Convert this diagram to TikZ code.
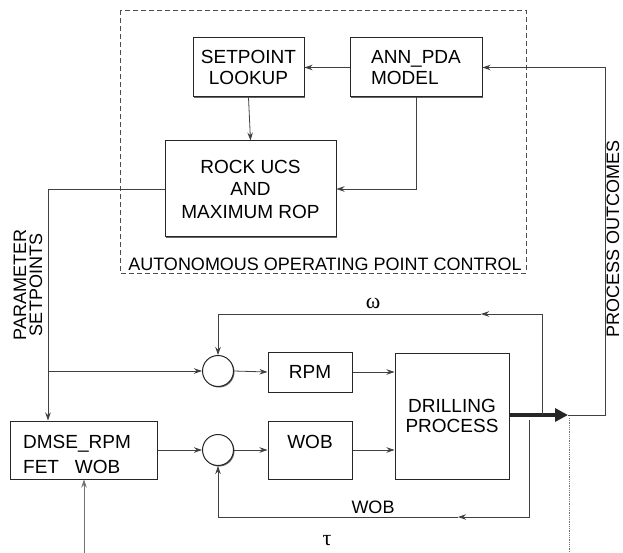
\documentclass[tikz,border=0pt]{standalone}
\usepackage{fontspec}
\setmainfont{Liberation Sans}
\newfontfamily\greekfont{Liberation Serif}
\usetikzlibrary{arrows.meta,shadows}
\begin{document}
\begin{tikzpicture}[x=1pt,y=-1pt,
  box/.style={draw=black!85, line width=1pt, fill=white, inner sep=0pt, align=center,
    font=\fontsize{19}{20.5}\selectfont,
    drop shadow={shadow xshift=1.2pt,shadow yshift=-1.2pt,opacity=0.6,fill=black}},
  sumc/.style={circle, draw=black!85, line width=1pt, fill=white, minimum size=31pt, inner sep=0pt,
    drop shadow={shadow xshift=1pt,shadow yshift=-1pt,opacity=0.6,fill=black}},
  conn/.style={draw=black!75, line width=0.8pt},
  arr/.style={conn, -{Stealth[length=8pt,width=5.5pt]}},
  lbl/.style={font=\fontsize{18}{19}\selectfont, inner sep=0pt},
  greek/.style={inner sep=0pt, font=\greekfont\fontsize{22}{22}\selectfont},
  faint/.style={draw=black!55, line width=0.8pt}]
\useasboundingbox (0,0) rectangle (623,553);

% dashed control box
\draw[draw=black!70, line width=0.7pt, dash pattern=on 5pt off 3pt] (120,10) rectangle (526,273);
\node[lbl] (aopc) at (325,264) {AUTONOMOUS OPERATING POINT CONTROL};

% upper blocks
\node[box, minimum width=111pt, minimum height=59pt] (setp) at (248.5,67.5) {SETPOINT\\LOOKUP};
\node[box, minimum width=132pt, minimum height=59pt, align=left] (ann) at (416,67.5) {ANN\_PDA\\MODEL};
\node[box, minimum width=171pt, minimum height=96pt, font=\fontsize{19}{22.5}\selectfont] (rock) at (250.5,189) {ROCK UCS\\AND\\MAXIMUM ROP};

% lower blocks
\node[box, minimum width=147pt, minimum height=58pt] (dmse) at (83.5,450) {};
\node[lbl, anchor=west, align=left, font=\fontsize{19}{25}\selectfont] (dmset) at (23,454) {DMSE\_RPM\\FET\ \ \ WOB};
\node[sumc] (up) at (218,371) {};
\node[sumc] (lo) at (218,450) {};
\node[box, minimum width=84pt, minimum height=40pt] (rpm) at (310,372) {RPM};
\node[box, minimum width=84pt, minimum height=58pt] (wob) at (310,450) {};
\node[lbl, font=\fontsize{19}{20}\selectfont] (wobt) at (310,442) {WOB};
\node[box, minimum width=114pt, minimum height=126pt] (drill) at (452,416) {DRILLING\\PROCESS};

% coordinates
\coordinate (ps) at (48,189);
\coordinate (tip) at (568,415);
\coordinate (po) at (605,415);
\coordinate (wr) at (542,415);
\coordinate (wt) at (542,314);
\coordinate (wm) at (481,314);
\coordinate (wl) at (218,314);
\coordinate (br) at (529,420);
\coordinate (bb) at (529,517);
\coordinate (bm) at (458,517);
\coordinate (bl) at (218,517);
\coordinate (dt) at (569,418);
\coordinate (db) at (569,553);
\coordinate (tb) at (84,553);

% upper connections
\draw[arr] (ann.west) -- (setp.east);
\draw[arr] (setp.south) -- (rock.north);
\draw[arr] (ann.south) |- (rock.east);
\draw[arr] (rock.west) -- (ps) -- (ps |- dmse.north);
\draw[arr] (ps |- up.west) -- (up.west);

% forward path
\draw[arr] (up.east) -- (rpm.west);
\draw[arr] (rpm.east) -- (drill.west |- rpm.east);
\draw[arr] (dmse.east) -- (lo.west);
\draw[arr] (lo.east) -- (wob.west);
\draw[arr] (wob.east) -- (drill.west |- wob.east);

% thick output
\draw[line width=4pt, draw=black!85, -{Triangle[length=13pt,width=13pt]}] (drill.east |- tip) -- (tip);
\draw[arr] (tip) -- (po) -- (po |- ann.east) -- (ann.east);

% omega loop
\draw[arr] (wr) -- (wt) -- (wm);
\draw[arr] (wm) -- (wl) -- (up.north);
\node[greek] (om) at (373,303) {ω};

% WOB loop
\draw[arr] (br) -- (bb) -- (bm);
\draw[arr] (bm) -- (bl) -- (lo.south);
\node[lbl] (wobl) at (373,507) {WOB};

% tau and dotted
\draw[faint, densely dotted] (dt) -- (db);
\draw[faint, -{Stealth[length=8pt,width=5.5pt]}] (tb) -- (dmse.south -| tb);
\node[greek] (tau) at (327,541) {τ};

% side labels
\node[lbl, rotate=90, align=center, font=\fontsize{18}{16}\selectfont] (param) at (28,285) {PARAMETER\\SETPOINTS};
\node[lbl, rotate=90] (pout) at (613,239) {PROCESS OUTCOMES};
\end{tikzpicture}
\end{document}
